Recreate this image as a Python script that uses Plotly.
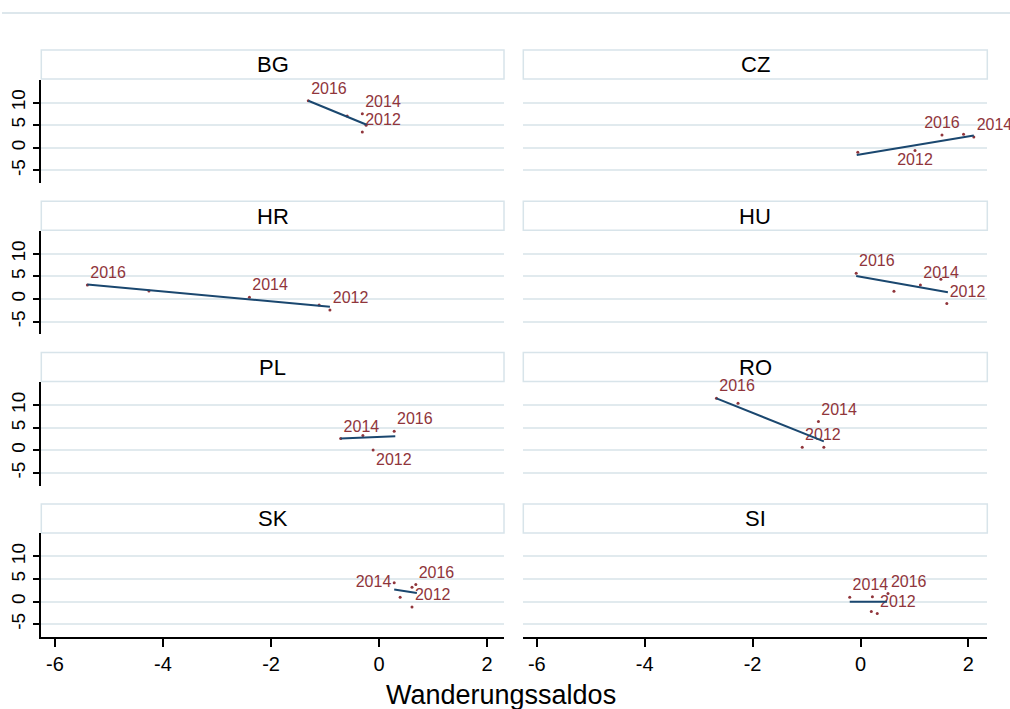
import plotly.graph_objects as go

# ---------------- data ----------------
countries = ["BG", "CZ", "HR", "HU", "PL", "RO", "SK", "SI"]
labeled_years = [2012, 2014, 2016]

years = {
    "BG": [2012, 2013, 2014, 2015, 2016],
    "CZ": [2012, 2013, 2014, 2015, 2016],
    "HR": [2012, 2013, 2014, 2015, 2016],
    "HU": [2012, 2013, 2014, 2015, 2016],
    "PL": [2012, 2013, 2014, 2016],
    "RO": [2012, 2013, 2014, 2015, 2016],
    "SK": [2012, 2013, 2014, 2015, 2016],
    "SI": [2012, 2013, 2014, 2015, 2016],
}
saldo_x = {
    "BG": [-0.31, -0.24, -0.31, -0.59, -1.31],
    "CZ": [1.01, -0.05, 2.10, 1.91, 1.51],
    "HR": [-0.91, -1.11, -2.40, -4.26, -5.40],
    "HU": [1.60, 0.62, 1.11, 1.49, -0.08],
    "PL": [-0.11, -0.30, -0.71, 0.28],
    "RO": [-1.08, -0.68, -0.78, -2.27, -2.67],
    "SK": [0.61, 0.39, 0.28, 0.61, 0.68],
    "SI": [0.31, 0.20, -0.20, 0.22, 0.51],
}
value_y = {
    "BG": [3.5, 5.0, 7.5, 7.0, 10.4],
    "CZ": [-0.6, -1.0, 2.4, 3.0, 2.8],
    "HR": [-2.4, -1.3, 0.4, 1.8, 3.1],
    "HU": [-1.0, 1.7, 3.1, 4.4, 5.7],
    "PL": [0.1, 3.3, 2.6, 4.2],
    "RO": [0.7, 0.7, 6.4, 10.4, 11.5],
    "SK": [-1.2, 1.0, 4.2, 3.2, 3.8],
    "SI": [-2.6, -2.2, 1.0, 1.1, 1.8],
}
# fitted line end points (x0, x1), (y0, y1)
fit_x = {
    "BG": [-1.31, -0.23], "CZ": [-0.07, 2.10], "HR": [-5.40, -0.91],
    "HU": [-0.08, 1.62], "PL": [-0.71, 0.30], "RO": [-2.67, -0.68],
    "SK": [0.28, 0.70], "SI": [-0.20, 0.49],
}
fit_y = {
    "BG": [10.4, 5.1], "CZ": [-1.6, 2.7], "HR": [3.2, -1.7],
    "HU": [5.1, 1.5], "PL": [2.6, 3.1], "RO": [11.5, 2.0],
    "SK": [2.7, 1.9], "SI": [0.0, 0.0],
}
x_ticks = [-6, -4, -2, 0, 2]
y_ticks = [-5, 0, 5, 10]
x_title = "Wanderungssaldos"

# label placement (style)
label_pos_override = {
    ("CZ", 2012): "bottom center",
    ("CZ", 2016): "top center",
    ("PL", 2012): "bottom right",
    ("SK", 2014): "middle left",
}

# ---------------- styling / layout ----------------
W, H = 1010, 709
FONT = "Liberation Sans, Arial, sans-serif"
MAROON = "#90353b"
NAVY = "#1a476f"
GRID = "#e1eaee"
STRIP = "#d8e4ea"

col_x = [(41.3, 504.0), (523.3, 987.3)]
x_ranges = [[-6.253, 2.313], [-6.25, 2.35]]
row_pitch = 151.3
plot_top0, plot_bot0 = 79.5, 183.0
strip_top0 = 50.0

fig = go.Figure()
shapes = []
annotations = []
layout_axes = {}

for i, c in enumerate(countries):
    r, col = divmod(i, 2)
    n = i + 1
    xa = "x" if n == 1 else f"x{n}"
    ya = "y" if n == 1 else f"y{n}"
    top = plot_top0 + r * row_pitch
    bot = plot_bot0 + r * row_pitch
    x0p, x1p = col_x[col]

    texts = [str(yr) if yr in labeled_years else "" for yr in years[c]]
    pos = [label_pos_override.get((c, yr), "top right") for yr in years[c]]

    fig.add_trace(go.Scatter(
        x=saldo_x[c], y=value_y[c], mode="markers+text",
        text=texts, textposition=pos,
        textfont=dict(family=FONT, size=16, color=MAROON),
        marker=dict(size=3, color=MAROON),
        xaxis=xa, yaxis=ya, showlegend=False, hoverinfo="x+y+text",
        cliponaxis=False,
    ))
    fig.add_trace(go.Scatter(
        x=fit_x[c], y=fit_y[c], mode="lines",
        line=dict(color=NAVY, width=2),
        xaxis=xa, yaxis=ya, showlegend=False, hoverinfo="skip",
    ))

    bottom_row = (r == 3)
    left_col = (col == 0)
    layout_axes["xaxis" if n == 1 else f"xaxis{n}"] = dict(
        domain=[x0p / W, x1p / W], range=x_ranges[col], anchor=ya,
        tickvals=x_ticks, ticktext=[str(t) for t in x_ticks],
        showgrid=False, zeroline=False,
        showline=bottom_row, linecolor="black", linewidth=1.5,
        ticks="outside" if bottom_row else "", ticklen=8, tickwidth=1.5,
        tickcolor="black", showticklabels=bottom_row,
        tickfont=dict(family=FONT, size=20, color="black"),
    )
    layout_axes["yaxis" if n == 1 else f"yaxis{n}"] = dict(
        domain=[1 - bot / H, 1 - top / H], range=[-7.8, 15.1], anchor=xa,
        tickvals=y_ticks, ticktext=[str(t) for t in y_ticks],
        showgrid=True, gridcolor=GRID, gridwidth=1.5,
        zeroline=False, showline=left_col, linecolor="black", linewidth=1.5,
        ticks="outside" if left_col else "", ticklen=7, tickwidth=1.5,
        tickcolor="black", showticklabels=left_col, tickangle=-90,
        tickfont=dict(family=FONT, size=19, color="black"),
    )

    st = strip_top0 + r * row_pitch
    shapes.append(dict(
        type="rect", xref="paper", yref="paper",
        x0=x0p / W, x1=x1p / W, y0=1 - (top - 0.5) / H, y1=1 - st / H,
        line=dict(color=STRIP, width=1.5), fillcolor="white", layer="below",
    ))
    annotations.append(dict(
        xref="paper", yref="paper", x=(x0p + x1p) / 2 / W,
        y=1 - (st + top) / 2 / H, text=c, showarrow=False,
        xanchor="center", yanchor="middle",
        font=dict(family=FONT, size=22, color="black"),
    ))

# top frame line
shapes.append(dict(type="line", xref="paper", yref="paper",
                   x0=2 / W, x1=1.0, y0=1 - 13 / H, y1=1 - 13 / H,
                   line=dict(color="#dde7ec", width=2)))

annotations.append(dict(
    xref="paper", yref="paper", x=501 / W, y=1 - 695 / H, text=x_title,
    showarrow=False, xanchor="center", yanchor="middle",
    font=dict(family=FONT, size=27, color="black"),
))

fig.update_layout(
    width=W, height=H, margin=dict(l=0, r=0, t=0, b=0),
    paper_bgcolor="white", plot_bgcolor="white",
    shapes=shapes, annotations=annotations, **layout_axes,
)

fig.write_html(
    "out.html",
    config={"displayModeBar": False},
    post_script="document.body.style.margin='0';document.body.style.padding='0';"
                "document.documentElement.style.overflow='hidden';",
)
